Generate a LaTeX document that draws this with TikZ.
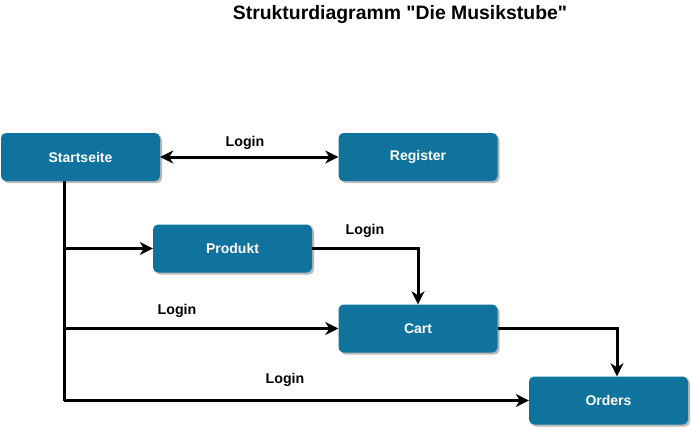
\documentclass[tikz,border=0pt]{standalone}
\usepackage{fontspec}
\setmainfont{Liberation Sans}[Ligatures=TeXOff]
\usetikzlibrary{arrows.meta,shadows}
\definecolor{boxblue}{HTML}{10739E}
\begin{document}
\begin{tikzpicture}[x=1pt,y=-1pt,
  tip/.tip={Stealth[length=13pt,width=13pt,inset=4pt]},
  page/.style={rectangle, rounded corners=5pt, fill=boxblue, draw=none,
    minimum width=159pt, minimum height=48pt, inner sep=0pt,
    text=white, font=\fontsize{14}{16}\selectfont\bfseries,
    drop shadow={shadow xshift=2pt, shadow yshift=-2pt, fill=black!35, opacity=0.8}},
  link/.style={line width=3pt, -tip},
  lbl/.style={font=\fontsize{14.2}{16}\selectfont\bfseries, text=black, inner sep=0pt}]
\useasboundingbox (0,0) rectangle (692,428);

\node[font=\fontsize{19.4}{22}\selectfont\bfseries] (title) at (400,15) {Strukturdiagramm "Die Musikstube"};

\node[page] (start) at (80.5,157) {Startseite};
\node[page] (reg) at (418,157) {Register};
\node[page] (prod) at (232.5,248.5) {Produkt};
\node[page] (cart) at (418,328.5) {Cart};
\node[page] (ord) at (608.5,400.5) {Orders};

% stem below the start page and its branches
\coordinate (stem) at (64,181);
\coordinate (j1) at (64,248.5);
\coordinate (j2) at (64,328.5);
\coordinate (j3) at (64,400.5);
\coordinate (pc) at (418,248.5);
\coordinate (co) at (617,328.5);

\draw[link, tip-tip] (start.east) -- (reg.west);
\draw[line width=3pt] (stem) -- (j3);
\draw[link] (j1) -- (prod.west);
\draw[link] (j2) -- (cart.west);
\draw[link] (j3) -- (ord.west);
\draw[link] (prod.east) -- (pc) -- (cart.north);
\draw[link] (cart.east) -- (co) -- (ord.north -| co);

\node[lbl] (l1) at (245,143) {Login};
\node[lbl] (l2) at (365,231) {Login};
\node[lbl] (l3) at (177,311) {Login};
\node[lbl] (l4) at (285,380) {Login};
\end{tikzpicture}
\end{document}
